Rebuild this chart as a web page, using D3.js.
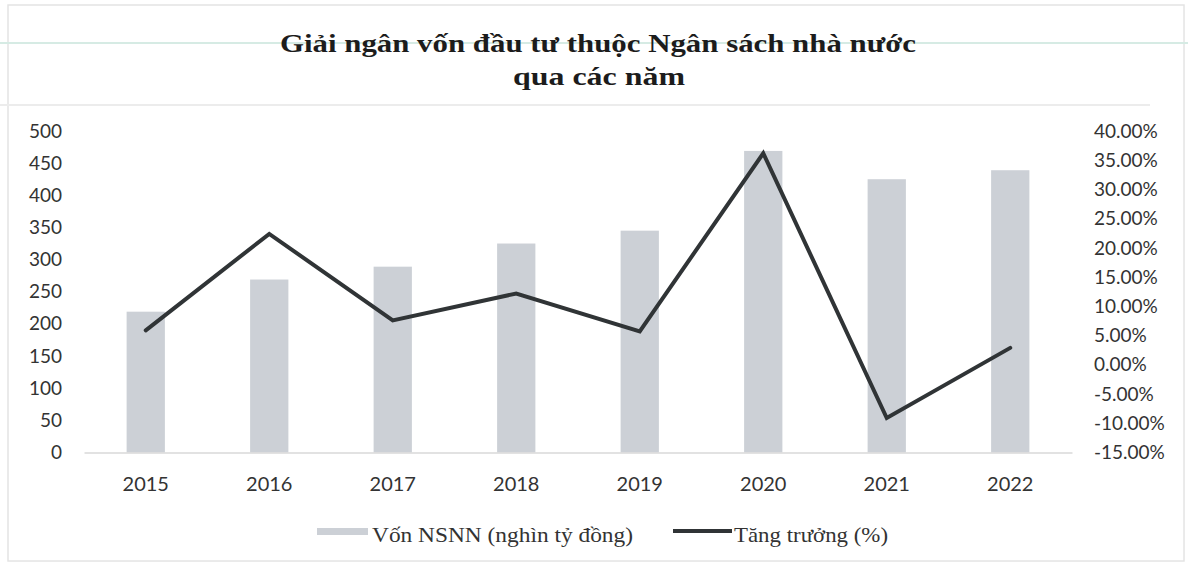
<!DOCTYPE html>
<html>
<head>
<meta charset="utf-8">
<script src="https://cdn.jsdelivr.net/npm/d3@7"></script>
<style>
  html, body { margin: 0; padding: 0; background: #ffffff; }
  svg { display: block; }
</style>
</head>
<body>
<svg id="chart" width="1188" height="566"></svg>
<script>
// Chart data
const years = ['2015', '2016', '2017', '2018', '2019', '2020', '2021', '2022'];
const vonNSNN = [219, 269, 289, 325, 345, 469, 425, 439];          // nghìn tỷ đồng
const tangTruong = [0.059, 0.224, 0.076, 0.122, 0.057, 0.362, -0.091, 0.029]; // growth
const leftTicks = [0, 50, 100, 150, 200, 250, 300, 350, 400, 450, 500];
const rightTicks = [-0.15, -0.10, -0.05, 0, 0.05, 0.10, 0.15, 0.20, 0.25, 0.30, 0.35, 0.40];
const titleLines = ['Giải ngân vốn đầu tư thuộc Ngân sách nhà nước', 'qua các năm'];
const legendLabels = ['Vốn NSNN (nghìn tỷ đồng)', 'Tăng trưởng (%)'];

const barColor = '#ccd0d6';
const lineColor = '#303436';
const textColor = '#333333';
const axisFont = 'Lato, "Open Sans", sans-serif';
const serifFont = '"Liberation Serif", "Times New Roman", serif';

const svg = d3.select('#chart');

// Faint frame and scan lines of the original page
svg.append('rect')
  .attr('x', 8).attr('y', 5)
  .attr('width', 1176).attr('height', 556)
  .attr('fill', 'none')
  .attr('stroke', '#e4e4e4')
  .attr('stroke-width', 1.5);

svg.append('line')
  .attr('x1', 0).attr('x2', 1188).attr('y1', 43).attr('y2', 43)
  .attr('stroke', '#d6ebe4').attr('stroke-width', 2);

svg.append('line')
  .attr('x1', 0).attr('x2', 1150).attr('y1', 105).attr('y2', 105)
  .attr('stroke', '#ececec').attr('stroke-width', 2);

// Scales
const x = d3.scaleBand().domain(years).range([84, 1072]).padding(0);
const y = d3.scaleLinear().domain([0, 500]).range([452.5, 131]);
const y2 = d3.scaleLinear().domain([-0.15, 0.40]).range([452.5, 131]);
const barWidth = x.bandwidth() * 0.31;

// Title
const title = svg.append('g')
  .attr('font-family', serifFont)
  .attr('font-weight', 'bold')
  .attr('font-size', 25)
  .attr('fill', '#1c1c1c')
  .attr('text-anchor', 'middle');

title.append('text')
  .attr('x', 598).attr('y', 52)
  .attr('textLength', 636)
  .attr('lengthAdjust', 'spacingAndGlyphs')
  .text(titleLines[0]);

title.append('text')
  .attr('x', 599).attr('y', 85)
  .attr('textLength', 172)
  .attr('lengthAdjust', 'spacingAndGlyphs')
  .text(titleLines[1]);

// Bars
svg.append('g')
  .selectAll('rect')
  .data(years)
  .join('rect')
  .attr('x', (d) => x(d) + (x.bandwidth() - barWidth) / 2)
  .attr('y', (d, i) => y(vonNSNN[i]))
  .attr('width', barWidth)
  .attr('height', (d, i) => y(0) - y(vonNSNN[i]))
  .attr('fill', barColor);

// Bottom axis
const xAxisGroup = svg.append('g')
  .attr('transform', `translate(0,${y(0)})`)
  .call(d3.axisBottom(x).tickSize(0).tickSizeOuter(0).tickPadding(24));

xAxisGroup.select('.domain')
  .attr('stroke', '#d9d9d9')
  .attr('stroke-width', 1.5);

xAxisGroup.selectAll('text')
  .attr('font-family', axisFont)
  .attr('font-size', 20)
  .attr('fill', textColor);

// Left axis
const yAxisGroup = svg.append('g')
  .attr('transform', 'translate(62,0)')
  .call(d3.axisLeft(y).tickValues(leftTicks).tickSize(0).tickPadding(0));

yAxisGroup.select('.domain').remove();
yAxisGroup.selectAll('text')
  .attr('font-family', axisFont)
  .attr('font-size', 19)
  .attr('fill', textColor);

// Right axis
const pct = (v) => (v * 100).toFixed(2) + '%';
const y2AxisGroup = svg.append('g')
  .attr('transform', 'translate(1094,0)')
  .call(d3.axisRight(y2).tickValues(rightTicks).tickFormat(pct).tickSize(0).tickPadding(0));

y2AxisGroup.select('.domain').remove();
y2AxisGroup.selectAll('text')
  .attr('font-family', axisFont)
  .attr('font-size', 19)
  .attr('fill', textColor);

// Growth line
const line = d3.line()
  .x((d, i) => x(years[i]) + x.bandwidth() / 2)
  .y((d) => y2(d));

svg.append('path')
  .datum(tangTruong)
  .attr('d', line)
  .attr('fill', 'none')
  .attr('stroke', lineColor)
  .attr('stroke-width', 4)
  .attr('stroke-linecap', 'round');

// Legend
const legend = svg.append('g')
  .attr('font-family', serifFont)
  .attr('font-size', 22)
  .attr('fill', textColor);

legend.append('rect')
  .attr('x', 317).attr('y', 528)
  .attr('width', 51).attr('height', 7)
  .attr('fill', barColor);

legend.append('text')
  .attr('x', 372).attr('y', 542)
  .attr('textLength', 261)
  .attr('lengthAdjust', 'spacingAndGlyphs')
  .text(legendLabels[0]);

legend.append('line')
  .attr('x1', 673).attr('x2', 732)
  .attr('y1', 531).attr('y2', 531)
  .attr('stroke', lineColor)
  .attr('stroke-width', 4);

legend.append('text')
  .attr('x', 734).attr('y', 542)
  .attr('textLength', 154)
  .attr('lengthAdjust', 'spacingAndGlyphs')
  .text(legendLabels[1]);
</script>
</body>
</html>
